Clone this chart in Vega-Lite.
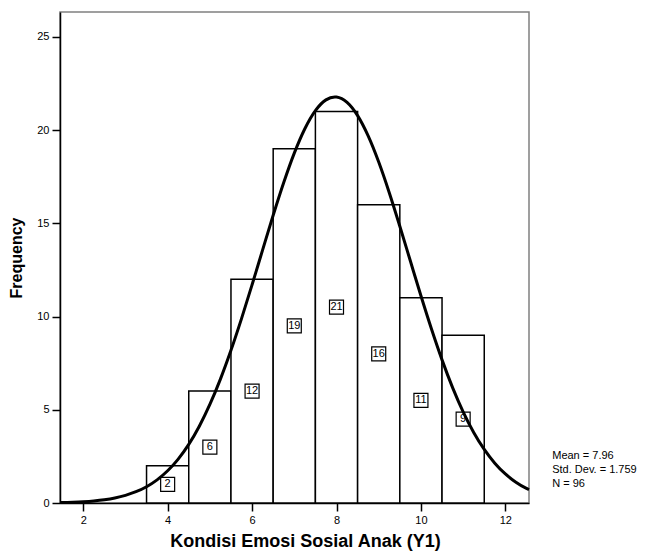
{
  "$schema": "https://vega.github.io/schema/vega-lite/v6.json",
  "width": 469,
  "height": 491,
  "autosize": {"type": "none"},
  "padding": {"left": 60, "top": 12, "right": 119, "bottom": 56},
  "background": "white",
  "config": {
    "font": "Liberation Sans",
    "view": {"stroke": "#808080", "strokeWidth": 1.5},
    "axis": {
      "grid": false,
      "domainColor": "black",
      "domainWidth": 1.5,
      "tickColor": "black",
      "tickWidth": 1.5,
      "tickSize": 8,
      "labelFontSize": 11,
      "labelColor": "black",
      "labelPadding": 3,
      "titleColor": "black",
      "titleFontWeight": "bold"
    }
  },
  "datasets": {
    "bins": [
      {"value": 4, "bin_start": 3.5, "bin_end": 4.5, "count": 2},
      {"value": 5, "bin_start": 4.5, "bin_end": 5.5, "count": 6},
      {"value": 6, "bin_start": 5.5, "bin_end": 6.5, "count": 12},
      {"value": 7, "bin_start": 6.5, "bin_end": 7.5, "count": 19},
      {"value": 8, "bin_start": 7.5, "bin_end": 8.5, "count": 21},
      {"value": 9, "bin_start": 8.5, "bin_end": 9.5, "count": 16},
      {"value": 10, "bin_start": 9.5, "bin_end": 10.5, "count": 11},
      {"value": 11, "bin_start": 10.5, "bin_end": 11.5, "count": 9}
    ],
    "curve": [
      {"x": 1.45, "y": 0.023}, {"x": 1.75, "y": 0.043}, {"x": 2.0, "y": 0.070},
      {"x": 2.25, "y": 0.112}, {"x": 2.5, "y": 0.176}, {"x": 2.75, "y": 0.271},
      {"x": 3.0, "y": 0.409}, {"x": 3.25, "y": 0.604}, {"x": 3.5, "y": 0.874},
      {"x": 3.75, "y": 1.242}, {"x": 4.0, "y": 1.727}, {"x": 4.25, "y": 2.355},
      {"x": 4.5, "y": 3.144}, {"x": 4.75, "y": 4.119}, {"x": 5.0, "y": 5.284},
      {"x": 5.25, "y": 6.645}, {"x": 5.5, "y": 8.189}, {"x": 5.75, "y": 9.889},
      {"x": 6.0, "y": 11.703}, {"x": 6.25, "y": 13.573}, {"x": 6.5, "y": 15.428},
      {"x": 6.75, "y": 17.185}, {"x": 7.0, "y": 18.762}, {"x": 7.25, "y": 20.070},
      {"x": 7.5, "y": 21.042}, {"x": 7.75, "y": 21.618}, {"x": 7.96, "y": 21.773},
      {"x": 8.0, "y": 21.767}, {"x": 8.25, "y": 21.479}, {"x": 8.5, "y": 20.771},
      {"x": 8.75, "y": 19.683}, {"x": 9.0, "y": 18.281}, {"x": 9.25, "y": 16.639},
      {"x": 9.5, "y": 14.840}, {"x": 9.75, "y": 12.975}, {"x": 10.0, "y": 11.113},
      {"x": 10.25, "y": 9.330}, {"x": 10.5, "y": 7.675}, {"x": 10.75, "y": 6.188},
      {"x": 11.0, "y": 4.890}, {"x": 11.25, "y": 3.786}, {"x": 11.5, "y": 2.874},
      {"x": 11.75, "y": 2.137}, {"x": 12.0, "y": 1.557}, {"x": 12.25, "y": 1.112},
      {"x": 12.5, "y": 0.779}, {"x": 12.56, "y": 0.718}
    ]
  },
  "layer": [
    {
      "data": {"name": "bins"},
      "mark": {"type": "rect", "fill": "white", "stroke": "black", "strokeWidth": 1.5},
      "encoding": {
        "x": {
          "field": "bin_start", "type": "quantitative",
          "scale": {"domain": [1.45, 12.56], "nice": false, "zero": false},
          "axis": {
            "values": [2, 4, 6, 8, 10, 12],
            "title": "Kondisi Emosi Sosial Anak (Y1)",
            "titleFontSize": 18,
            "titlePadding": 7,
            "titleX": 245
          }
        },
        "x2": {"field": "bin_end"},
        "y": {
          "field": "count", "type": "quantitative",
          "scale": {"domain": [0, 26.33], "nice": false},
          "axis": {
            "values": [0, 5, 10, 15, 20, 25],
            "title": "Frequency",
            "titleFontSize": 16,
            "titlePadding": 12
          }
        },
        "y2": {"datum": 0}
      }
    },
    {
      "data": {"name": "bins"},
      "mark": {"type": "point", "shape": "square", "filled": true, "fill": "white", "stroke": "black", "strokeWidth": 1.2, "size": 196, "opacity": 1},
      "encoding": {
        "x": {"field": "value", "type": "quantitative"},
        "y": {"field": "count", "type": "quantitative", "scale": {"domain": [0, 52.66], "nice": false}, "axis": null}
      }
    },
    {
      "data": {"name": "bins"},
      "mark": {"type": "text", "fontSize": 11, "baseline": "middle", "align": "center", "color": "black"},
      "encoding": {
        "x": {"field": "value", "type": "quantitative"},
        "y": {"field": "count", "type": "quantitative", "scale": {"domain": [0, 52.66], "nice": false}, "axis": null},
        "text": {"field": "count", "type": "quantitative"}
      }
    },
    {
      "data": {"name": "curve"},
      "mark": {"type": "line", "color": "black", "strokeWidth": 3, "interpolate": "monotone"},
      "encoding": {
        "x": {"field": "x", "type": "quantitative"},
        "y": {"field": "y", "type": "quantitative", "scale": {"domain": [0, 26.33], "nice": false}, "axis": null}
      }
    },
    {
      "data": {"values": [{}]},
      "mark": {"type": "text", "text": ["Mean = 7.96", "Std. Dev. = 1.759", "N = 96"], "align": "left", "baseline": "top", "fontSize": 11, "lineHeight": 14, "color": "black", "clip": false},
      "encoding": {
        "x": {"datum": 13.11},
        "y": {"datum": 2.85, "scale": {"domain": [0, 26.33], "nice": false}, "axis": null}
      }
    }
  ],
  "resolve": {"scale": {"y": "independent"}}
}
